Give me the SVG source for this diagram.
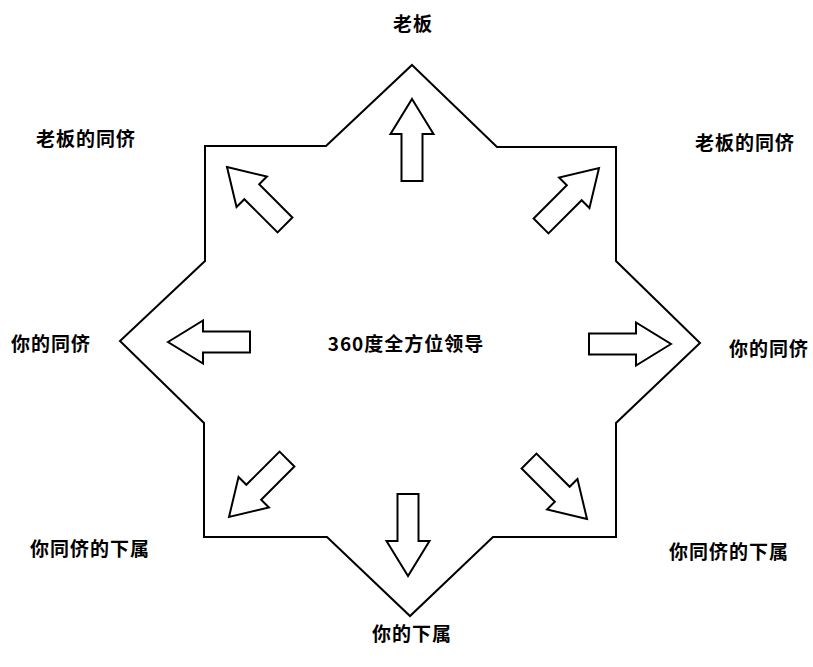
<svg xmlns="http://www.w3.org/2000/svg" width="813" height="667" viewBox="0 0 813 667">
<defs>
<style>
.o{fill:none;stroke:#000;stroke-width:2;stroke-linejoin:miter}
.a{fill:#fff;stroke:#000;stroke-width:2;stroke-linejoin:miter}
.t{font-family:"Noto Sans CJK SC","Liberation Sans",sans-serif;font-size:19px;font-weight:bold;letter-spacing:1px;text-anchor:middle;fill:#000}
</style>
<polygon id="arr" points="0,0 21.5,35 10.5,35 10.5,82 -10.5,82 -10.5,35 -21.5,35"/>
</defs>
<rect width="813" height="667" fill="#fff"/>
<g id="star">
<polygon class="o" points="412,65 497,147 616,147 616,261 700,343 616,423 616,537 493,537 410,616 327,537 204,537 204,423 120,341 205,261 205,146 326,146"/>
</g>
<g id="connectors">
<use href="#arr" class="a" transform="translate(412,99)"/>
<use href="#arr" class="a" transform="translate(227,167) rotate(-45)"/>
<use href="#arr" class="a" transform="translate(599,168) rotate(45)"/>
<use href="#arr" class="a" transform="translate(168,342) rotate(-90)"/>
<use href="#arr" class="a" transform="translate(671,344) rotate(90)"/>
<use href="#arr" class="a" transform="translate(229,517) rotate(-135)"/>
<use href="#arr" class="a" transform="translate(587,519) rotate(135)"/>
<use href="#arr" class="a" transform="translate(408,576) rotate(180)"/>
</g>
<g id="n-center"><text class="t" x="406" y="351">360度全方位领导</text></g>
<g id="n-boss"><text class="t" x="413" y="31">老板</text></g>
<g id="n-boss-peer-l"><text class="t" x="86" y="146">老板的同侪</text></g>
<g id="n-boss-peer-r"><text class="t" x="745" y="150">老板的同侪</text></g>
<g id="n-peer-l"><text class="t" x="51" y="351">你的同侪</text></g>
<g id="n-peer-r"><text class="t" x="769" y="356">你的同侪</text></g>
<g id="n-peer-sub-l"><text class="t" x="90" y="556">你同侪的下属</text></g>
<g id="n-peer-sub-r"><text class="t" x="729" y="559">你同侪的下属</text></g>
<g id="n-sub"><text class="t" x="412" y="641">你的下属</text></g>
</svg>
